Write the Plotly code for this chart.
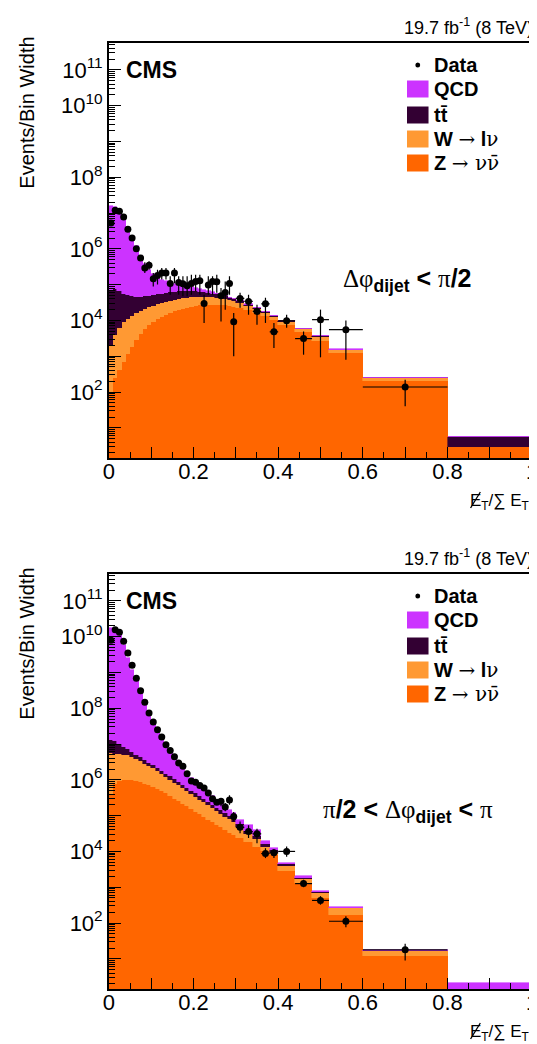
import plotly.graph_objects as go

W_PX, H_PX = 537, 1044

# ---------------- data ----------------
bin_edges = [0.00, 0.01, 0.02, 0.03, 0.04, 0.05, 0.06, 0.07, 0.08, 0.09,
             0.10, 0.11, 0.12, 0.13, 0.14, 0.15, 0.16, 0.17, 0.18, 0.19,
             0.20, 0.21, 0.22, 0.23, 0.24, 0.25, 0.26, 0.27, 0.28, 0.29,
             0.30, 0.32, 0.34, 0.36, 0.38, 0.40, 0.44, 0.48, 0.52, 0.60,
             0.80, 1.00]

# Panel 1: dphi_dijet < pi/2
z_low = [100, 250, 400, 710, 1120, 1780, 2820, 4170, 5620, 7240,
         8910, 10700, 12600, 14500, 16200, 18200, 20000, 21400, 22900, 24000,
         25100, 26300, 26900, 27500, 27500, 27500, 26900, 26300, 25100, 24000,
         22400, 20000, 16600, 13200, 10500, 7590, 4680, 2690, 1230, 200, 2.9]
w_low = [1900, 3730, 5910, 8200, 10100, 11700, 13000, 14000, 15300, 16200,
         16800, 17500, 18300, 18700, 19300, 19800, 19900, 20300, 19800, 19700,
         19600, 19400, 18800, 18200, 17100, 16100, 14800, 13500, 12000, 10700,
         8510, 5750, 4290, 3040, 2120, 1530, 940, 860, 280, 45, 0.1]
tt_low = [68800, 71900, 59800, 47300, 38900, 33300, 29900, 27500, 25900, 25500,
          25600, 25500, 25300, 25800, 26200, 25100, 24800, 24400, 23400, 22400,
          19900, 17400, 16000, 13200, 11600, 10100, 8430, 6960, 5510, 5140,
          2980, 1840, 990, 760, 290, 210, 70, 40, 20, 3, 2.5]
qcd_low = [1.54e7, 1.44e7, 1.11e7, 6.40e6, 3.34e6, 1.73e6, 1.13e6, 5.71e5, 3.33e5, 2.14e5,
           1.48e5, 1.05e5, 8.18e4, 6.42e4, 5.31e4, 4.39e4, 3.54e4, 2.73e4, 2.31e4, 1.90e4,
           1.49e4, 1.10e4, 7520, 5690, 4030, 2530, 2360, 1090, 990, 930,
           790, 640, 510, 400, 300, 220, 60, 40, 20, 3, 0.06]
data_low = [5.25e6, 1.2e7, 1.12e7, 7.8e6, 3.5e6, 2.0e6, 1.0e6, 5.5e5, 2.9e5, 3.5e5,
            1.45e5, 1.8e5, 2.1e5, 2.1e5, 1.07e5, 2.1e5, 1.15e5, 1.05e5, 9.3e4, 1.07e5,
            1.23e5, 1.29e5, 2.95e4, 9.8e4, 1.23e5, 1.2e5, 4.9e4, 6.0e4, 1.07e5, 9.1e3,
            4.1e4, 3.4e4, 1.78e4, 2.9e4, 4.8e3, 9.8e3, 3.1e3, 1.05e4, 5.5e3, 138, None]
data_low_hi = [None, None, None, None, None, None, None, None, 4.2e5, 4.5e5,
               2.1e5, 2.6e5, 2.9e5, 2.9e5, 1.7e5, 2.9e5, 1.7e5, 1.7e5, 1.7e5, 1.9e5,
               1.9e5, 1.9e5, 5.2e4, 1.7e5, 1.7e5, 1.9e5, 8.1e4, 1.23e5, 1.7e5, 1.62e4,
               5.9e4, 5.2e4, 2.75e4, 4.3e4, 8.5e3, 1.45e4, 4.9e3, 2.0e4, 1.0e4, 219, None]
data_low_lo = [None, None, None, None, None, None, None, None, 2.1e5, 2.6e5,
               8.9e4, 1.0e5, 1.38e5, 1.38e5, 5.2e4, 1.1e5, 5.2e4, 4.7e4, 4.7e4, 5.2e4,
               6.5e4, 5.2e4, 8.5e3, 5.2e4, 5.2e4, 5.9e4, 9.3e3, 2.0e4, 5.2e4, 1.0e3,
               2.24e4, 1.45e4, 7.6e3, 8.5e3, 1.7e3, 6.2e3, 1.1e3, 930, 790, 40, None]

# Panel 2: pi/2 < dphi_dijet < pi
z_high = [3.84e5, 7.6e5, 9.4e5, 1.0e6, 1.0e6, 9.6e5, 9.0e5, 8.5e5, 7.8e5, 7.3e5,
          6.3e5, 5.5e5, 4.75e5, 4.2e5, 3.5e5, 3.0e5, 2.5e5, 2.1e5, 1.8e5, 1.53e5,
          1.29e5, 1.08e5, 9.1e4, 7.7e4, 6.6e4, 5.6e4, 4.7e4, 3.95e4, 3.3e4, 2.9e4,
          2.36e4, 1.79e4, 1.35e4, 1.02e4, 7.7e3, 2750, 1320, 500, 170, 11.7, 0.5]
w_high = [5.22e6, 4.6e6, 4.3e6, 4.0e6, 4.0e6, 3.5e6, 3.0e6, 2.5e6, 2.04e6, 1.7e6,
          1.45e6, 1.21e6, 1.0e6, 8.0e5, 6.55e5, 5.3e5, 4.5e5, 3.67e5, 3.04e5, 2.47e5,
          2.09e5, 1.7e5, 1.43e5, 1.16e5, 9.7e4, 7.9e4, 6.6e4, 5.4e4, 4.5e4, 3.7e4,
          2.33e4, 1.27e4, 8.2e3, 3.3e3, 1.46e3, 1230, 380, 175, 87, 4.9, 0.05]
tt_high = [7.58e6, 6.5e6, 4.7e6, 3.4e6, 2.1e6, 1.55e6, 1.14e6, 9.0e5, 7.4e5, 5.8e5,
           4.5e5, 3.7e5, 3.2e5, 2.6e5, 2.4e5, 2.0e5, 1.67e5, 1.37e5, 1.16e5, 9.7e4,
           8.1e4, 6.6e4, 5.6e4, 4.6e4, 3.9e4, 3.2e4, 2.7e4, 2.2e4, 1.9e4, 1.6e4,
           1.12e4, 7.3e3, 4.6e3, 2.55e3, 1.49e3, 390, 120, 48, 6, 0.4, 0.05]
qcd_high = [1.733e10, 1.66e10, 1.13e10, 5.93e9, 2.51e9, 1.185e9, 5.57e8, 2.61e8, 1.22e8, 6.57e7,
            3.6e7, 2.04e7, 1.23e7, 8.1e6, 4.72e6, 3.03e6, 2.07e6, 1.42e6, 9.4e5, 6.25e5,
            4.49e5, 3.56e5, 2.4e5, 1.88e5, 1.42e5, 1.12e5, 8.4e4, 6.6e4, 4.9e4, 3.6e4,
            1.88e4, 1.79e4, 1.41e4, 2.98e3, 1.73e3, 530, 175, 52, 12, 0.8, 1.5]
data_high = [7.9e9, 1.55e10, 1.32e10, 7.4e9, 3.47e9, 1.58e9, 6.9e8, 3.1e8, 1.48e8, 7.4e7,
             4.1e7, 2.5e7, 1.58e7, 9.5e6, 6.6e6, 4.4e6, 2.95e6, 2.4e6, 1.48e6, 9.3e5,
             8.5e5, 6.9e5, 5.9e5, 4.3e5, 2.95e5, 2.35e5, 2.5e5, 1.74e5, 2.75e5, 9.5e4,
             4.7e4, 3.6e4, 3.1e4, 8.7e3, 9.1e3, 1.0e4, 1.26e3, 427, 112, 17.8, None]
data_high_hi = [None, None, None, None, None, None, None, None, None, None,
                None, None, None, None, None, None, None, None, None, None,
                None, None, 6.9e5, 5.0e5, 3.45e5, 2.75e5, 3.1e5, 2.24e5, 3.7e5, 1.26e5,
                6.9e4, 5.4e4, 4.3e4, 1.23e4, 1.17e4, 1.38e4, 1.62e3, 562, 155, 26.3, None]
data_high_lo = [None, None, None, None, None, None, None, None, None, None,
                None, None, None, None, None, None, None, None, None, None,
                None, None, 5.0e5, 3.65e5, 2.5e5, 2.0e5, 1.82e5, 1.32e5, 2.0e5, 6.9e4,
                3.2e4, 2.35e4, 1.7e4, 6.5e3, 6.5e3, 7.1e3, 1.0e3, 324, 76, 8.9, None]

x_tick_vals = [0.0, 0.1, 0.2, 0.3, 0.4, 0.5, 0.6, 0.7, 0.8, 0.9, 1.0]
x_tick_labels = ["0", "", "0.2", "", "0.4", "", "0.6", "", "0.8", "", "1"]
y_tick_labels = ["", "10<sup>2</sup>", "", "10<sup>4</sup>", "", "10<sup>6</sup>", "",
                 "10<sup>8</sup>", "", "10<sup>10</sup>", "10<sup>11</sup>"]

# ---------------- styling / geometry ----------------
C_QCD, C_TT, C_W, C_Z = "#CC33FF", "#330033", "#FF9933", "#FF6600"
FONT = "Liberation Sans, Arial, Helvetica, sans-serif"
SERIF = "Liberation Serif"
GREEK = "DejaVu Serif"
FRAME_L, FRAME_R = 97, 530
PANEL_TOP = [35, 566]
PANEL_BOT = [450, 981]
Y_LOG_RANGE = [0.156, 11.75]


def px_x(p):
    return p / W_PX


def px_y(p):
    return 1 - p / H_PX


def span(font, s):
    return "<span style=\"font-family:%s\">%s</span>" % (font, s)


centers = [(a + b) / 2 for a, b in zip(bin_edges[:-1], bin_edges[1:])]
widths = [b - a for a, b in zip(bin_edges[:-1], bin_edges[1:])]

panels = [
    dict(z=z_low, w=w_low, tt=tt_low, qcd=qcd_low, data=data_low, hi=data_low_hi, lo=data_low_lo),
    dict(z=z_high, w=w_high, tt=tt_high, qcd=qcd_high, data=data_high, hi=data_high_hi, lo=data_high_lo),
]

fig = go.Figure()
layout_axes = {}
shapes = []
annotations = []

for k, p in enumerate(panels):
    xa = "x" if k == 0 else "x2"
    ya = "y" if k == 0 else "y2"
    for vals, col in [(p["z"], C_Z), (p["w"], C_W), (p["tt"], C_TT), (p["qcd"], C_QCD)]:
        fig.add_trace(go.Bar(x=centers, y=vals, width=widths, xaxis=xa, yaxis=ya,
                             marker=dict(color=col, line=dict(width=0.6, color=col)),
                             showlegend=False, hoverinfo="skip"))
    xs, ys, eu, ed, ex = [], [], [], [], []
    for c, wdt, d, h, l in zip(centers, widths, p["data"], p["hi"], p["lo"]):
        if d is None:
            continue
        xs.append(c)
        ys.append(d)
        eu.append(h - d if h is not None else 0)
        ed.append(d - l if l is not None else 0)
        ex.append(wdt / 2)
    fig.add_trace(go.Scatter(x=xs, y=ys, xaxis=xa, yaxis=ya, mode="markers",
                             marker=dict(color="black", size=7),
                             error_y=dict(type="data", symmetric=False, array=eu, arrayminus=ed,
                                          thickness=1.2, width=0, color="black"),
                             error_x=dict(type="data", array=ex, thickness=1.2, width=0, color="black"),
                             showlegend=False, hoverinfo="skip"))

    top, bot = PANEL_TOP[k], PANEL_BOT[k]
    xkey = "xaxis" if k == 0 else "xaxis2"
    ykey = "yaxis" if k == 0 else "yaxis2"
    layout_axes[xkey] = dict(
        domain=[px_x(FRAME_L), px_x(FRAME_R)], anchor=ya, range=[0, 1],
        tickmode="array", tickvals=x_tick_vals, ticktext=x_tick_labels,
        ticks="inside", ticklen=11, tickwidth=1, tickcolor="black",
        minor=dict(ticks="inside", ticklen=6, dtick=0.05, tick0=0, tickmode="linear", tickcolor="black"),
        showline=True, mirror=True, linecolor="black", linewidth=1.5,
        showgrid=False, zeroline=False, ticklabelstandoff=-7,
        tickfont=dict(family=FONT, size=22, color="black"))
    dec_vals = [10.0 ** e for e in range(1, 12)]
    minor_vals = [m * 10.0 ** e for e in range(0, 12) for m in range(2, 10)]
    layout_axes[ykey] = dict(
        domain=[px_y(bot), px_y(top)], anchor=xa, type="log", range=Y_LOG_RANGE,
        tickmode="array", tickvals=dec_vals, ticktext=y_tick_labels,
        ticks="inside", ticklen=12, tickwidth=1, tickcolor="black",
        minor=dict(ticks="inside", ticklen=6, tickmode="array", tickvals=minor_vals, tickcolor="black"),
        showline=True, mirror=True, linecolor="black", linewidth=1.5,
        showgrid=False, zeroline=False,
        tickfont=dict(family=FONT, size=22, color="black"))

    # lumi label
    annotations.append(dict(x=px_x(533), y=px_y(top - 3), xref="paper", yref="paper",
                            xanchor="right", yanchor="bottom", showarrow=False,
                            text="19.7 fb<sup>-1</sup> (8 TeV)",
                            font=dict(family=FONT, size=18, color="black")))
    # CMS
    annotations.append(dict(x=px_x(113), y=px_y(top + 27), xref="paper", yref="paper",
                            xanchor="left", yanchor="middle", showarrow=False,
                            text="<b>CMS</b>", font=dict(family=FONT, size=23, color="black")))
    # y title
    annotations.append(dict(x=px_x(13), y=px_y(top - 8), xref="paper", yref="paper",
                            xanchor="center", yanchor="top", showarrow=False, textangle=-90,
                            text="Events/Bin Width", font=dict(family=FONT, size=20, color="black")))
    # x title (missing-ET symbol: E with a slash line drawn over it)
    title_y = bot + 44
    annotations.append(dict(x=px_x(464), y=px_y(title_y), xref="paper", yref="paper",
                            xanchor="left", yanchor="middle", showarrow=False,
                            text="E<sub>T</sub>/\u2211 E<sub>T</sub>",
                            font=dict(family=FONT, size=17, color="black")))
    shapes.append(dict(type="line", xref="paper", yref="paper",
                       x0=px_x(467), y0=px_y(title_y + 6), x1=px_x(477), y1=px_y(title_y - 10),
                       line=dict(color="black", width=1.3)))
    # legend
    leg_x_box0, leg_x_box1, leg_x_text = 402, 424, 428
    rows = [("dot", "<b>Data</b>", top + 22),
            (C_QCD, "<b>QCD</b>", top + 46),
            (C_TT, "<b>tt\u0304</b>", top + 72),
            (C_W, "<b>W</b> " + span(GREEK, "\u2192") + " <b>l</b>" + span(GREEK, "\u03bd"), top + 96),
            (C_Z, "<b>Z</b> " + span(GREEK, "\u2192 \u03bd\u03bd\u0304"), top + 120)]
    for col, txt, yc in rows:
        if col == "dot":
            shapes.append(dict(type="circle", xref="paper", yref="paper",
                               x0=px_x(410.5), x1=px_x(415.5), y0=px_y(yc + 2.5), y1=px_y(yc - 2.5),
                               fillcolor="black", line=dict(width=0)))
        else:
            shapes.append(dict(type="rect", xref="paper", yref="paper",
                               x0=px_x(leg_x_box0), x1=px_x(leg_x_box1),
                               y0=px_y(yc + 8.5), y1=px_y(yc - 8.5),
                               fillcolor=col, line=dict(width=0)))
        annotations.append(dict(x=px_x(leg_x_text), y=px_y(yc), xref="paper", yref="paper",
                                xanchor="left", yanchor="middle", showarrow=False, text=txt,
                                font=dict(family=FONT, size=20, color="black")))

# region labels
annotations.append(dict(x=px_x(334), y=px_y(272), xref="paper", yref="paper",
                        xanchor="left", yanchor="middle", showarrow=False,
                        text=span(SERIF, "\u0394\u03c6") + "<sub><b>dijet</b></sub> <b>&lt;</b> "
                             + span(SERIF, "\u03c0") + "<b>/2</b>",
                        font=dict(family=FONT, size=25, color="black")))
annotations.append(dict(x=px_x(314), y=px_y(803), xref="paper", yref="paper",
                        xanchor="left", yanchor="middle", showarrow=False,
                        text=span(SERIF, "\u03c0") + "<b>/2 &lt;</b> " + span(SERIF, "\u0394\u03c6")
                             + "<sub><b>dijet</b></sub> <b>&lt;</b> " + span(SERIF, "\u03c0"),
                        font=dict(family=FONT, size=25, color="black")))

fig.update_layout(width=W_PX, height=H_PX, margin=dict(l=0, r=0, t=0, b=0),
                  paper_bgcolor="white", plot_bgcolor="white",
                  barmode="stack", bargap=0, showlegend=False,
                  shapes=shapes, annotations=annotations, **layout_axes)

fig.write_html("out.html")
